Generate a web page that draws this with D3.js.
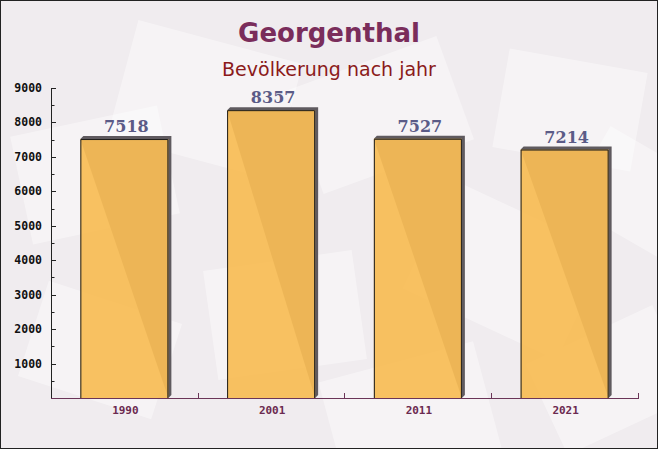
<!DOCTYPE html>
<html><head><meta charset="utf-8">
<script src="https://cdn.jsdelivr.net/npm/d3@7"></script>
<style>html,body{margin:0;padding:0;background:#fff}svg{display:block}</style>
</head><body>
<script>
const years = ["1990", "2001", "2011", "2021"];
const population = [7518, 8357, 7527, 7214];
const yTicks = [1000, 2000, 3000, 4000, 5000, 6000, 7000, 8000, 9000];
const titleText = "Georgenthal";
const subtitleText = "Bevölkerung nach jahr";

(function(){
const W = 658, H = 449;
const svg = d3.select("body").append("svg").attr("width", W).attr("height", H);

// background
svg.append("rect").attr("width", W).attr("height", H).attr("fill", "#f0ecef");
const deco = svg.append("g");
const envs = [[20,120,150,110,-12],[120,40,170,120,15],[300,60,160,110,-20],[420,210,170,120,25],[210,260,150,110,-8],[500,60,140,100,10],[30,300,140,100,18],[330,360,160,110,-15],[540,330,140,100,-25],[580,150,120,90,30]];
envs.forEach(e=>{
  deco.append("rect").attr("x",e[0]).attr("y",e[1]).attr("width",e[2]).attr("height",e[3])
    .attr("fill","#ffffff").attr("opacity",0.4)
    .attr("transform",`rotate(${e[4]},${e[0]+e[2]/2},${e[1]+e[3]/2})`);
});

const pl = 51, pr = 638, pt = 88, pb = 398;
const x = d3.scaleBand().domain(years).range([pl, pr]).paddingInner(0.4).paddingOuter(0.2);
const y = d3.scaleLinear().domain([0, 9000]).range([pb, pt]);

// bars with shadow
const d = 3;
const g = svg.append("g");
years.forEach((yr, i) => {
  const bx = x(yr), bw = x.bandwidth(), by = y(population[i]);
  g.append("path")
    .attr("d", `M${bx},${by} L${bx+d},${by-d} L${bx+bw+d},${by-d} L${bx+bw+d},${pb-d} L${bx+bw},${pb} Z`)
    .attr("fill", "#5f5a5f");
  g.append("rect").attr("x", bx).attr("y", by).attr("width", bw).attr("height", pb - by)
    .attr("fill", "#f8bc55").attr("fill-opacity", 0.93);
  g.append("path").attr("d", `M${bx+0.5},${pb} L${bx+0.5},${by+0.5} L${bx+bw-0.5},${by+0.5} L${bx+bw-0.5},${pb}`)
    .attr("fill", "none").attr("stroke", "#1a1a1a").attr("stroke-width", 1);
  g.append("text").attr("x", bx + bw/2 + 2).attr("y", by - d - 4)
    .attr("text-anchor", "middle").attr("font-family", "DejaVu Serif").attr("font-weight", "bold")
    .attr("font-size", 16).attr("fill", "#5b5b87").text(population[i]);
});

// y axis
const ya = svg.append("g");
ya.append("line").attr("x1", pl+0.5).attr("x2", pl+0.5).attr("y1", pt).attr("y2", pb).attr("stroke", "#222");
const minor = d3.range(500, 9000, 1000);
minor.forEach(v => ya.append("line").attr("x1", pl).attr("x2", pl+3.5).attr("y1", Math.round(y(v))+0.5).attr("y2", Math.round(y(v))+0.5).attr("stroke", "#222"));
yTicks.forEach(v => {
  ya.append("line").attr("x1", pl).attr("x2", pl+5).attr("y1", Math.round(y(v))+0.5).attr("y2", Math.round(y(v))+0.5).attr("stroke", "#222");
  ya.append("text").attr("x", 42).attr("y", y(v) + 4).attr("text-anchor", "end")
    .attr("font-family", "DejaVu Sans Mono").attr("font-weight", "bold").attr("font-size", 11.5)
    .attr("fill", "#111").text(v);
});

// x axis
const xa = svg.append("g");
xa.append("line").attr("x1", pl).attr("x2", pr+1).attr("y1", pb+0.5).attr("y2", pb+0.5).attr("stroke", "#6b3558");
const bounds = years.map(yr => x(yr) - x.step()*x.paddingInner()/2).slice(1).concat([pr]);
bounds.forEach(bx => xa.append("line").attr("x1", Math.round(bx)+0.5).attr("x2", Math.round(bx)+0.5).attr("y1", pb).attr("y2", pb-5).attr("stroke", "#6b3558"));
years.forEach(yr => xa.append("text").attr("x", x(yr) + x.bandwidth()/2 + 1).attr("y", pb + 16)
  .attr("text-anchor", "middle").attr("font-family", "DejaVu Sans Mono").attr("font-weight", "bold")
  .attr("font-size", 11).attr("fill", "#6b2a50").text(yr));

// titles
svg.append("text").attr("x", W/2).attr("y", 42).attr("text-anchor", "middle")
  .attr("font-family", "DejaVu Sans").attr("font-weight", "bold").attr("font-size", 26)
  .attr("fill", "#7a2d5b").text(titleText);
svg.append("text").attr("x", W/2).attr("y", 76).attr("text-anchor", "middle")
  .attr("font-family", "DejaVu Sans").attr("font-size", 19)
  .attr("fill", "#8b1a1a").text(subtitleText);

// frame
svg.append("rect").attr("x", 0.5).attr("y", 0.5).attr("width", W-1).attr("height", H-1)
  .attr("fill", "none").attr("stroke", "#222");
})();
</script>
</body></html>
